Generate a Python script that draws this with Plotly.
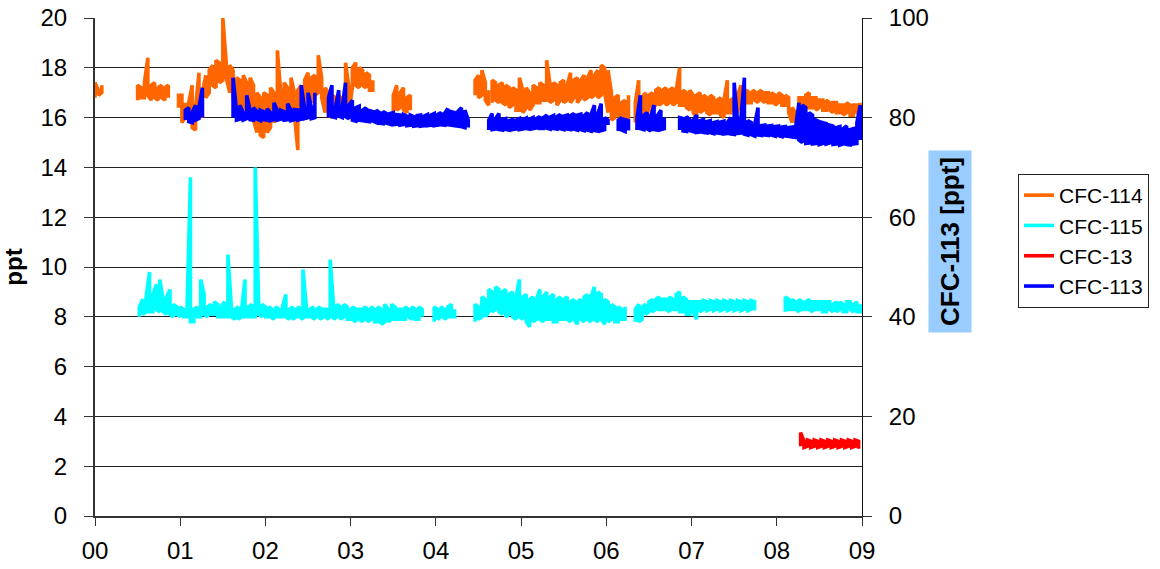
import plotly.graph_objects as go

# Sampling interval of the records (years since 2000); each sample holds
# the lowest and highest value measured within that interval.
SAMPLE_STEP = 0.04

YEAR_TICKS = [0, 1, 2, 3, 4, 5, 6, 7, 8, 9]
YEAR_LABELS = ["00", "01", "02", "03", "04", "05", "06", "07", "08", "09"]

# CFC-114 [ppt]: (segment start year, interval minima, interval maxima)
CFC114 = [
    (0.00, [16.8, 16.9, 17.0], [17.4, 17.1, 17.3]),
    (0.50, [16.7, 16.8, 16.8, 16.9, 16.7, 16.8, 16.7, 16.8, 16.7, 16.8],
           [17.3, 17.2, 17.4, 18.4, 17.3, 17.4, 17.2, 17.3, 17.2, 17.3]),
    (0.98, [16.4, 15.8, 16.0], [16.9, 16.9, 16.6]),
    (1.10, [15.9, 15.6, 15.5, 16.2, 16.0, 16.8, 17.0, 17.3, 17.2, 17.4,
            17.5, 17.6, 17.0, 16.8, 16.4, 16.2, 16.3, 16.2, 16.0, 15.9,
            15.4, 15.3, 15.2, 15.4, 15.6, 15.8, 16.2, 15.9, 16.1, 16.2,
            16.0, 16.1, 14.7, 16.3, 16.2, 16.8, 16.6, 16.9, 17.0, 16.8,
            16.2, 16.1, 16.0, 16.1, 16.2, 16.1, 16.3, 16.2, 17.2, 17.3,
            17.2, 17.3, 17.2, 17.1, 17.1],
           [16.6, 17.3, 16.4, 17.8, 17.0, 17.7, 17.9, 18.1, 18.3, 18.2,
            20.0, 18.2, 18.1, 17.9, 17.6, 17.5, 17.7, 17.4, 17.6, 17.3,
            17.0, 16.8, 17.0, 16.9, 17.2, 17.0, 18.7, 17.0, 17.4, 17.2,
            17.6, 17.0, 17.1, 17.3, 17.5, 17.8, 17.6, 17.7, 18.5, 17.6,
            17.2, 17.0, 16.9, 16.8, 16.9, 16.7, 18.2, 17.2, 18.0, 18.2,
            18.0, 17.9, 17.8, 17.7, 17.5]),
    (3.50, [16.2, 16.3, 16.4, 16.3, 16.2, 16.3],
           [16.9, 17.3, 17.0, 17.2, 16.8, 16.9]),
    (4.46, [16.9, 16.8, 16.9, 16.7, 16.5],
           [17.5, 17.7, 17.9, 17.4, 17.1]),
    (4.66, [16.6, 16.7, 16.6, 16.6, 16.5, 16.4, 16.5, 16.3, 16.3, 16.2,
            16.4, 16.3, 16.5, 16.6, 16.6, 16.7, 16.7, 16.6, 16.7, 16.5,
            16.7, 16.6, 16.7, 16.6, 16.8, 16.6, 16.8, 16.7, 16.8, 16.8,
            16.9, 16.8, 16.9, 17.0, 16.2, 15.9, 16.0, 16.1, 15.9, 15.8,
            16.0],
           [17.5, 17.4, 17.3, 17.4, 17.3, 17.2, 17.2, 17.1, 17.6, 17.1,
            17.2, 17.0, 17.3, 17.2, 17.4, 17.3, 18.3, 17.3, 17.4, 17.3,
            17.4, 17.5, 17.3, 17.8, 17.5, 17.6, 17.5, 17.7, 17.6, 17.9,
            17.7, 17.9, 18.1, 18.0, 17.9, 17.0, 16.8, 16.9, 16.6, 16.7,
            16.9]),
    (6.34, [15.8, 15.9, 16.0, 16.2, 16.3, 16.4, 16.5, 16.5, 16.6, 16.5,
            16.6, 16.5, 16.6, 16.5, 16.5, 16.4, 16.3, 16.2, 16.0, 16.2,
            16.3, 16.2, 16.1, 16.2, 16.2, 16.1, 16.0, 16.2, 16.2, 16.3,
            16.2, 16.3, 16.5, 16.6, 16.6, 16.7, 16.6, 16.7, 16.6, 16.6,
            16.6, 16.5, 16.6, 16.5, 16.5, 16.2, 15.8, 15.8, 16.0, 16.3,
            16.4, 16.4, 16.4, 16.3, 16.4, 16.3, 16.3, 16.3, 16.2, 16.2,
            16.2, 16.1, 16.2, 16.1, 16.1, 16.2, 16.1],
           [16.6, 17.5, 16.8, 17.0, 16.9, 17.0, 17.1, 17.2, 17.1, 17.2,
            17.1, 17.2, 17.1, 18.0, 17.1, 17.0, 17.1, 16.9, 16.9, 17.0,
            16.9, 16.8, 16.9, 16.8, 16.7, 16.8, 16.7, 17.5, 16.7, 16.8,
            16.9, 17.3, 17.0, 17.1, 17.0, 17.1, 17.0, 17.1, 17.0, 17.0,
            17.0, 16.9, 17.0, 16.9, 16.9, 16.8, 16.4, 16.2, 16.8, 16.8,
            16.9, 17.0, 16.8, 16.8, 16.7, 16.7, 16.7, 16.6, 16.6, 16.6,
            16.5, 16.5, 16.6, 16.5, 16.5, 16.5, 16.6]),
]

# CFC-115 [ppt]
CFC115 = [
    (0.52, [8.0, 8.1, 8.2, 8.2, 8.2, 8.3, 8.2, 8.2, 8.1, 8.1,
            8.0, 8.1, 8.0, 8.0, 8.0, 7.8, 7.8, 8.0, 8.0, 8.1,
            8.0, 8.1, 8.1, 8.0, 8.0, 8.0, 8.0, 8.0, 7.9, 7.9,
            8.0, 8.0, 8.0, 8.0, 8.0, 8.1, 8.0, 8.0, 8.0, 7.9,
            8.0, 8.0, 8.0, 8.0, 7.9, 7.9, 8.0, 8.0, 7.9, 8.0,
            8.0, 7.9, 8.0, 7.9, 8.0, 7.9, 8.0, 7.9, 8.0, 7.9,
            8.0, 7.9, 7.9, 7.8, 7.9, 7.8, 7.9, 7.8, 7.9, 7.8,
            7.8, 7.7, 7.8, 7.8, 7.9, 7.9, 7.9, 7.9, 7.9, 8.0,
            7.9, 7.9, 7.9, 8.0],
           [8.4, 8.7, 8.8, 9.8, 8.9, 9.3, 9.5, 8.7, 8.8, 9.1,
            8.5, 8.4, 8.4, 8.3, 8.4, 13.6, 8.3, 8.4, 9.5, 8.9,
            8.4, 8.5, 8.6, 8.5, 8.4, 8.6, 10.5, 8.4, 8.3, 8.4,
            8.3, 9.5, 8.4, 8.5, 14.0, 8.6, 8.5, 8.4, 8.4, 8.3,
            8.4, 8.3, 8.4, 8.9, 8.3, 8.4, 8.3, 8.4, 9.9, 8.4,
            8.3, 8.4, 8.3, 8.4, 8.3, 8.3, 10.3, 8.4, 8.5, 8.4,
            8.5, 8.4, 8.3, 8.4, 8.3, 8.3, 8.4, 8.3, 8.4, 8.3,
            8.4, 8.3, 8.5, 8.3, 8.5, 8.4, 8.3, 8.3, 8.4, 8.3,
            8.4, 8.3, 8.4, 8.3]),
    (3.98, [7.8, 7.9, 8.0, 7.9, 8.0, 8.0, 8.0],
           [8.4, 8.3, 8.4, 8.3, 8.4, 8.5, 8.3]),
    (4.46, [7.8, 7.9, 8.0, 8.0, 8.2, 8.2, 8.3, 8.2, 8.1, 8.0,
            8.1, 8.0, 7.9, 8.0, 7.9, 7.8, 7.6, 7.8, 7.9, 7.9,
            7.8, 7.9, 7.9, 7.8, 7.8, 7.9, 7.9, 7.9, 7.8, 7.9,
            7.7, 7.9, 7.8, 7.9, 7.8, 7.9, 7.8, 7.9, 7.7, 7.8,
            7.9, 7.8, 7.8, 7.9, 7.9],
           [8.5, 8.4, 8.8, 8.7, 9.1, 9.0, 9.2, 9.1, 9.0, 9.1,
            8.9, 9.0, 8.8, 9.5, 8.8, 8.9, 8.7, 8.8, 8.7, 9.1,
            8.8, 9.0, 8.8, 8.9, 8.7, 8.8, 8.7, 8.8, 8.6, 8.7,
            8.6, 8.7, 8.8, 8.9, 8.8, 9.2, 9.0, 8.9, 8.7, 8.6,
            8.5, 8.4, 8.4, 8.3, 8.4]),
    (6.34, [7.8, 7.8, 7.9, 8.1, 8.2, 8.2, 8.3, 8.3, 8.3, 8.3,
            8.2, 8.3, 8.3, 8.2, 8.2, 8.1, 8.1, 8.2, 7.9, 8.2,
            8.3, 8.25, 8.3, 8.25, 8.3, 8.25, 8.3, 8.25, 8.3, 8.25,
            8.3, 8.25, 8.3, 8.25, 8.3, 8.25],
           [8.3, 8.5, 8.4, 8.5, 8.6, 8.7, 8.7, 8.8, 8.7, 8.7,
            8.8, 8.7, 8.9, 9.0, 8.8, 8.7, 8.6, 8.6, 8.6, 8.6,
            8.65, 8.6, 8.65, 8.6, 8.65, 8.6, 8.65, 8.6, 8.65, 8.6,
            8.65, 8.6, 8.65, 8.6, 8.65, 8.6]),
    (8.10, [8.2, 8.3, 8.3, 8.3, 8.2, 8.3, 8.3, 8.3, 8.2, 8.3,
            8.3, 8.2, 8.2, 8.3, 8.2, 8.2, 8.3, 8.2, 8.2, 8.3,
            8.2, 8.2, 8.2],
           [8.8, 8.7, 8.7, 8.6, 8.7, 8.6, 8.6, 8.7, 8.6, 8.6,
            8.6, 8.6, 8.6, 8.6, 8.5, 8.6, 8.6, 8.5, 8.6, 8.6,
            8.5, 8.6, 8.5]),
]

# CFC-13 [ppt]
CFC13 = [
    (8.28, [2.8, 2.75, 2.8, 2.75, 2.8, 2.75, 2.8, 2.75, 2.8, 2.75,
            2.8, 2.75, 2.8, 2.75, 2.8, 2.75, 2.8, 2.7],
           [3.35, 3.0, 3.05, 3.0, 3.05, 3.0, 3.05, 3.0, 3.05, 3.0,
            3.05, 3.0, 3.05, 3.0, 3.05, 3.0, 3.05, 3.0]),
]

# CFC-113 [ppt], plotted against the right-hand axis
CFC113 = [
    (1.06, [79.5, 79.2, 79.0, 79.5, 79.8, 80.0],
           [81.5, 82.0, 81.0, 82.5, 82.0, 86.0]),
    (1.62, [80.0, 79.5, 79.7, 79.5, 79.8, 79.6, 79.5, 79.7, 79.4, 79.6,
            79.5, 79.4, 79.6, 79.5, 79.7, 79.5, 79.6, 79.4, 79.6, 79.5,
            79.7, 79.8, 80.0, 79.8, 80.0],
           [88.0, 81.5, 82.5, 81.0, 84.5, 81.5, 82.0, 81.3, 81.5, 81.2,
            81.8, 81.0, 83.0, 81.4, 81.5, 81.2, 82.8, 81.5, 81.6, 81.5,
            86.5, 81.8, 85.0, 82.0, 85.0]),
    (2.74, [80.0, 80.2, 80.0, 80.3, 80.0, 80.2, 79.8, 79.5, 79.3, 79.5,
            79.4, 79.3, 79.2, 79.3, 79.0, 78.9, 78.8, 78.9, 78.7, 78.6,
            78.7, 78.5, 78.6, 78.4, 78.5, 78.3, 78.4, 78.3, 78.4, 78.4,
            78.5, 78.4, 78.5, 78.6, 78.5, 78.6, 78.5, 78.4, 78.3, 78.2,
            78.0, 78.0],
           [84.0, 86.5, 82.0, 85.5, 82.0, 87.0, 82.5, 83.5, 82.0, 82.3,
            81.5, 82.0, 81.4, 81.2, 81.5, 81.0, 81.2, 80.8, 80.8, 81.0,
            80.6, 80.5, 80.6, 80.3, 80.5, 80.2, 80.4, 80.5, 80.3, 80.6,
            80.5, 80.8, 80.6, 81.0, 80.8, 81.8, 81.2, 81.0, 81.3, 82.0,
            81.5, 79.5]),
    (4.62, [77.5, 77.6, 77.7, 77.6, 77.5, 77.6, 77.5, 77.6, 77.7, 77.6,
            77.7, 77.8, 77.7, 77.8, 77.9, 77.8, 77.8, 77.9, 77.7, 77.8,
            77.7, 77.8, 77.6, 77.7, 77.6, 77.7, 77.5, 77.6, 77.4, 77.5,
            77.3, 77.4, 77.3, 77.4, 77.6, 78.5],
           [79.5, 80.8, 79.8, 80.8, 79.6, 79.8, 79.4, 79.6, 79.5, 79.8,
            79.6, 79.9, 79.7, 80.0, 79.8, 80.2, 80.0, 80.5, 80.1, 80.4,
            80.2, 80.6, 80.3, 80.5, 80.4, 80.8, 80.5, 80.7, 80.4, 81.0,
            80.6, 82.5, 80.8, 82.8, 80.0, 79.5]),
    (6.14, [77.3, 77.5, 77.2, 77.4], [79.5, 80.0, 79.6, 79.4]),
    (6.36, [77.5, 77.8, 77.6, 77.7, 77.3, 77.6, 77.5, 77.6, 77.8],
           [80.0, 84.5, 80.5, 81.0, 80.3, 82.5, 80.4, 81.5, 80.0]),
    (6.86, [77.5, 77.3, 77.2, 77.4, 77.2, 77.0, 77.1, 77.0, 76.9, 77.0,
            76.8, 76.9, 76.8, 76.7, 76.8, 76.7, 76.6, 76.8, 76.9, 76.7,
            76.5, 76.6, 76.3, 76.5, 76.4, 76.5, 76.4, 76.5, 76.3, 76.4,
            76.2, 76.3, 76.2, 76.1, 76.0, 75.5, 75.0, 74.8, 74.9, 74.7,
            74.8, 74.6, 74.8, 74.7, 74.9, 74.6, 74.7, 74.5, 74.7, 74.6,
            74.5, 74.7, 74.8, 75.5],
           [80.0, 79.8, 80.2, 79.6, 79.5, 80.5, 79.4, 79.6, 79.2, 79.4,
            79.0, 79.2, 79.1, 79.3, 79.0, 80.0, 87.0, 79.2, 80.0, 88.0,
            79.4, 79.0, 78.6, 82.0, 78.4, 78.5, 78.3, 78.4, 78.2, 78.3,
            78.1, 78.2, 78.0, 78.1, 78.0, 83.0, 82.5, 82.0, 81.0, 80.5,
            79.5, 79.2, 79.0, 78.8, 78.5, 78.3, 78.0, 78.2, 77.8, 78.3,
            77.6, 77.8, 79.0, 82.5]),
]

FONT = "Liberation Sans, Arial, sans-serif"


def expand(segments):
    """Trace each interval's min-max range in turn, with gaps between segments."""
    xs, ys = [], []
    for start, lows, highs in segments:
        assert len(lows) == len(highs)
        if xs:
            xs.append(None)
            ys.append(None)
        for i, (lo, hi) in enumerate(zip(lows, highs)):
            t = round(start + i * SAMPLE_STEP, 4)
            pair = (lo, hi) if i % 2 == 0 else (hi, lo)
            xs.extend([t, t])
            ys.extend(pair)
    return xs, ys


fig = go.Figure()

series = [
    ("CFC-114", CFC114, "#FF6600", "y"),
    ("CFC-115", CFC115, "#00FFFF", "y"),
    ("CFC-13", CFC13, "#FF0000", "y"),
    ("CFC-113", CFC113, "#0000FF", "y2"),
]
for name, segs, color, axis in series:
    x, y = expand(segs)
    fig.add_trace(go.Scatter(
        x=x, y=y, name=name, mode="lines", yaxis=axis,
        connectgaps=False,
        line=dict(color=color, width=3.6),
    ))

PLOT_L, PLOT_R, PLOT_T, PLOT_B = 95, 862, 18, 516
W, H = 1160, 569


def px_to_paper_x(px):
    return (px - PLOT_L) / (PLOT_R - PLOT_L)


def px_to_paper_y(py):
    return (PLOT_B - py) / (PLOT_B - PLOT_T)


fig.update_layout(
    width=W, height=H,
    margin=dict(l=PLOT_L, r=W - PLOT_R, t=PLOT_T, b=H - PLOT_B, autoexpand=False),
    paper_bgcolor="white", plot_bgcolor="white",
    font=dict(family=FONT, size=24, color="black"),
    showlegend=True,
    legend=dict(
        x=px_to_paper_x(1018), y=px_to_paper_y(174),
        xanchor="left", yanchor="top",
        bgcolor="white", bordercolor="#222222", borderwidth=1,
        font=dict(family=FONT, size=21, color="black"),
        tracegroupgap=0,
    ),
    xaxis=dict(
        range=[0, 9], automargin=False,
        tickmode="array", tickvals=YEAR_TICKS, ticktext=YEAR_LABELS,
        showgrid=False, zeroline=False,
        showline=True, linecolor="#333333", linewidth=2,
        ticks="outside", ticklen=8, tickcolor="#333333", tickwidth=1,
        ticklabelstandoff=4,
        tickfont=dict(size=24),
    ),
    yaxis=dict(
        range=[0, 20], dtick=2, automargin=False,
        showgrid=True, gridcolor="#222222", gridwidth=1,
        zeroline=False,
        showline=True, linecolor="#333333", linewidth=2,
        ticks="outside", ticklen=9, tickcolor="#333333", tickwidth=1,
        ticklabelstandoff=12,
        tickfont=dict(size=24),
        title=dict(text="<b>ppt</b>", font=dict(size=24), standoff=18),
    ),
    yaxis2=dict(
        range=[0, 100], dtick=20, automargin=False,
        overlaying="y", side="right",
        showgrid=False, zeroline=False,
        showline=True, linecolor="#111111", linewidth=1,
        ticks="outside", ticklen=9, tickcolor="#333333", tickwidth=1,
        ticklabelstandoff=12,
        tickfont=dict(size=24),
    ),
)

# Right-hand axis title on a shaded box
fig.add_annotation(
    text="<b>CFC-113 [ppt]</b>",
    xref="paper", yref="paper",
    x=px_to_paper_x(950), y=px_to_paper_y(242),
    xanchor="center", yanchor="middle",
    textangle=-90, showarrow=False,
    font=dict(family=FONT, size=26, color="black"),
    bgcolor="#99CCFF", borderpad=6,
)

fig.write_html("out.html")
